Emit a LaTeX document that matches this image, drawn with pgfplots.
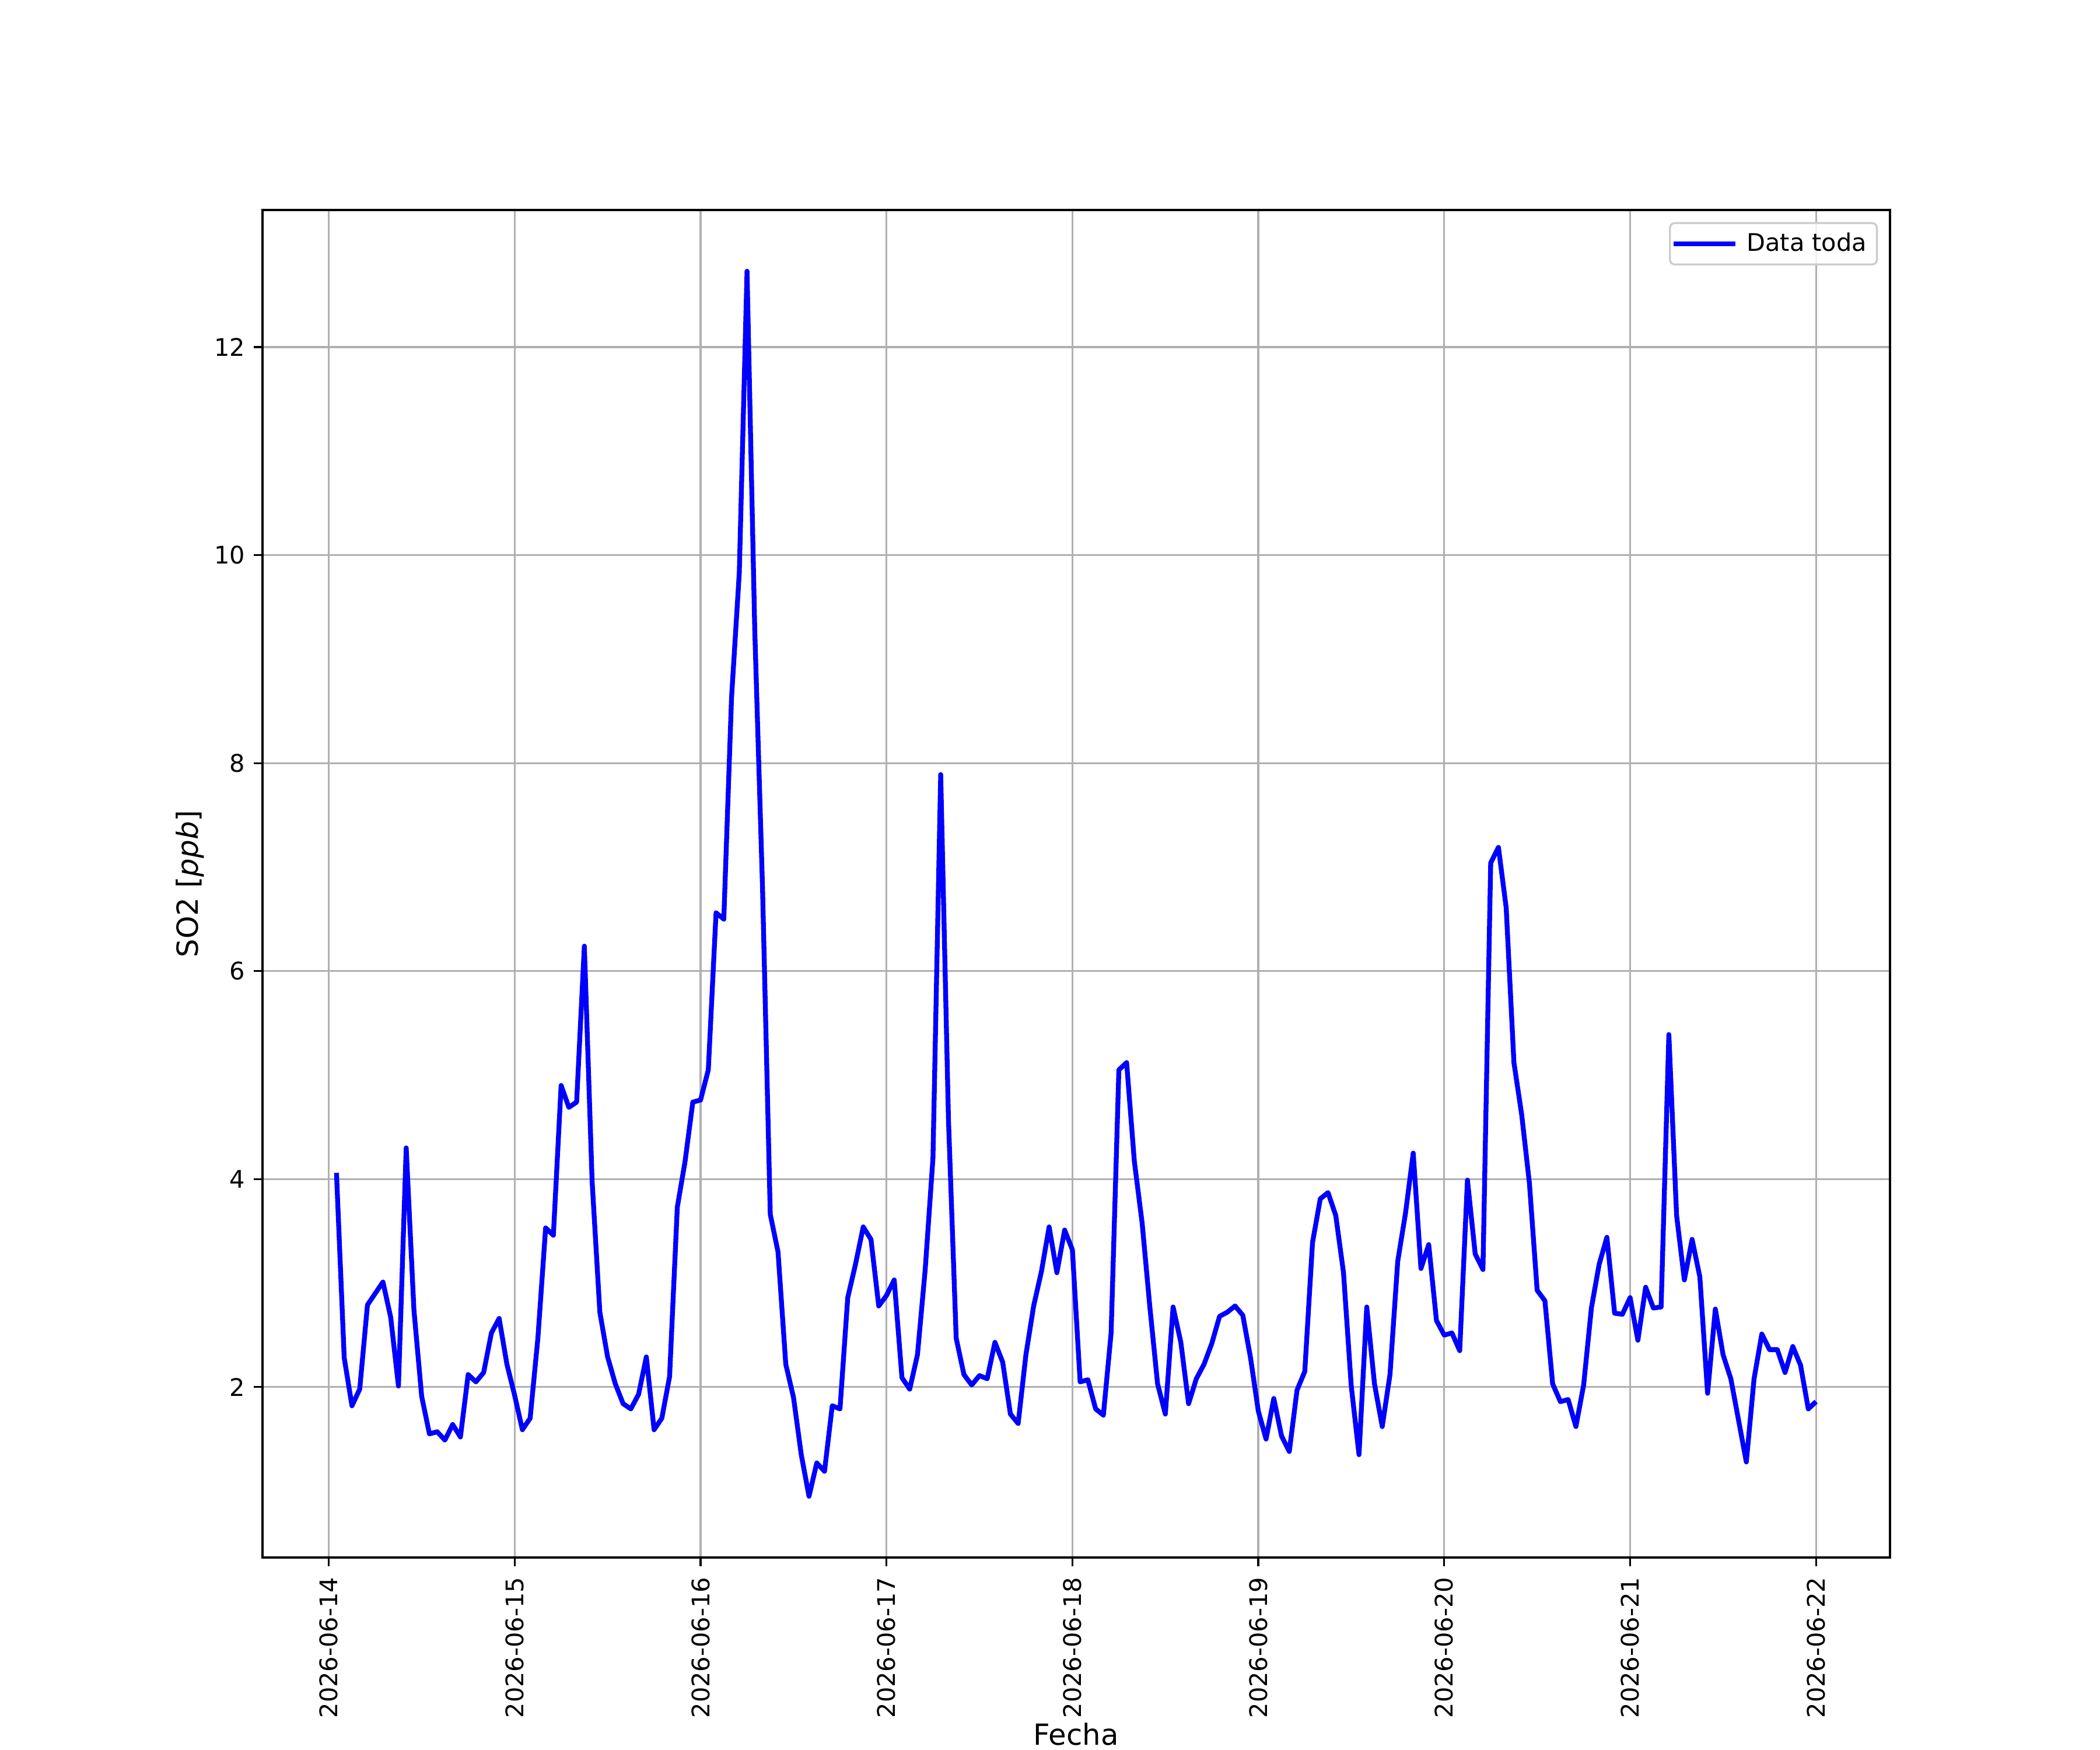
\documentclass[border=0pt]{standalone}
\usepackage{fontspec}
\setmainfont{DejaVu Sans}
\usepackage{pgfplots}
\pgfplotsset{compat=1.18}
\usepackage{pgfplotstable}
\pgfplotstableread{
h v
1 4.06
2 2.28
3 1.82
4 1.98
5 2.79
6 2.90
7 3.01
8 2.67
9 2.01
10 4.30
11 2.74
12 1.91
13 1.55
14 1.57
15 1.49
16 1.64
17 1.52
18 2.12
19 2.05
20 2.14
21 2.52
22 2.66
23 2.22
24 1.92
25 1.59
26 1.70
27 2.47
28 3.53
29 3.46
30 4.90
31 4.69
32 4.74
33 6.24
34 3.98
35 2.72
36 2.29
37 2.03
38 1.84
39 1.79
40 1.93
41 2.29
42 1.59
43 1.70
44 2.10
45 3.73
46 4.17
47 4.74
48 4.76
49 5.05
50 6.56
51 6.50
52 8.63
53 9.83
54 12.73
55 9.27
56 6.80
57 3.66
58 3.30
59 2.22
60 1.90
61 1.35
62 0.95
63 1.27
64 1.19
65 1.82
66 1.79
67 2.86
68 3.18
69 3.54
70 3.42
71 2.78
72 2.88
73 3.03
74 2.09
75 1.98
76 2.31
77 3.13
78 4.20
79 7.89
80 4.58
81 2.47
82 2.12
83 2.02
84 2.11
85 2.08
86 2.43
87 2.24
88 1.74
89 1.65
90 2.31
91 2.78
92 3.11
93 3.54
94 3.10
95 3.51
96 3.32
97 2.05
98 2.07
99 1.79
100 1.73
101 2.52
102 5.05
103 5.12
104 4.17
105 3.58
106 2.77
107 2.03
108 1.74
109 2.77
110 2.43
111 1.84
112 2.08
113 2.22
114 2.42
115 2.68
116 2.72
117 2.78
118 2.69
119 2.28
120 1.77
121 1.50
122 1.89
123 1.53
124 1.38
125 1.97
126 2.15
127 3.39
128 3.81
129 3.87
130 3.65
131 3.10
132 2.01
133 1.35
134 2.77
135 2.03
136 1.62
137 2.12
138 3.21
139 3.67
140 4.25
141 3.14
142 3.37
143 2.64
144 2.50
145 2.52
146 2.35
147 3.99
148 3.28
149 3.13
150 7.04
151 7.19
152 6.61
153 5.12
154 4.62
155 3.96
156 2.93
157 2.83
158 2.03
159 1.86
160 1.88
161 1.62
162 2.02
163 2.76
164 3.18
165 3.44
166 2.71
167 2.70
168 2.86
169 2.45
170 2.96
171 2.76
172 2.77
173 5.39
174 3.65
175 3.03
176 3.42
177 3.06
178 1.94
179 2.75
180 2.31
181 2.08
182 1.68
183 1.28
184 2.08
185 2.51
186 2.36
187 2.36
188 2.14
189 2.39
190 2.21
191 1.79
192 1.86
}\datatable
\definecolor{gridgray}{HTML}{B0B0B0}
\definecolor{legedge}{HTML}{CCCCCC}
\begin{document}
\begin{tikzpicture}
\useasboundingbox (-1.5in,-1.1in) rectangle (10.5in,8.9in);
\begin{axis}[
  at={(0,0)}, anchor=south west,
  scale only axis,
  width=9.3in, height=7.7in,
  xmin=-8.55, xmax=201.55,
  ymin=0.361, ymax=13.319,
  xtick={0,24,48,72,96,120,144,168,192},
  xticklabels={2026-06-14,2026-06-15,2026-06-16,2026-06-17,2026-06-18,2026-06-19,2026-06-20,2026-06-21,2026-06-22},
  ytick={2,4,6,8,10,12},
  /pgf/number format/assume math mode=true,
  tick align=outside,
  major tick length=3.5pt,
  tick style={black, line width=0.8pt},
  xtick pos=bottom, ytick pos=left,
  axis line style={line width=0.8pt},
  grid=major,
  major grid style={gridgray, line width=0.8pt},
  ticklabel style={font=\fontsize{10}{12}\selectfont},
  xticklabel style={rotate=90, anchor=east, inner sep=0pt, xshift=-4.5pt},
  yticklabel style={inner sep=0pt, xshift=-3.5pt},
  xlabel={Fecha},
  ylabel={SO2 [\textit{ppb}]},
  label style={font=\fontsize{12}{14}\selectfont},
  xlabel style={yshift=1.5pt},
  ylabel style={yshift=0.75pt},
  legend style={at={(1,1)}, anchor=north east, xshift=-5pt, yshift=-5pt,
    draw=legedge, line width=0.8pt, rounded corners=2pt, fill=white, fill opacity=0.8, text opacity=1,
    font=\fontsize{10}{12}\selectfont, inner xsep=0.5pt, inner ysep=2pt,
    nodes={inner xsep=3.7pt}},
  legend image code/.code={\path (0pt,0pt) -- (25.5pt,0pt);\draw[#1, line width=2pt] (1pt,0pt) -- (23pt,0pt);},
  legend cell align=left,
]
\addplot[blue, line width=2pt, line join=round] table[x=h, y=v] {\datatable};
\addlegendentry{Data toda}
\end{axis}
\end{tikzpicture}
\end{document}
